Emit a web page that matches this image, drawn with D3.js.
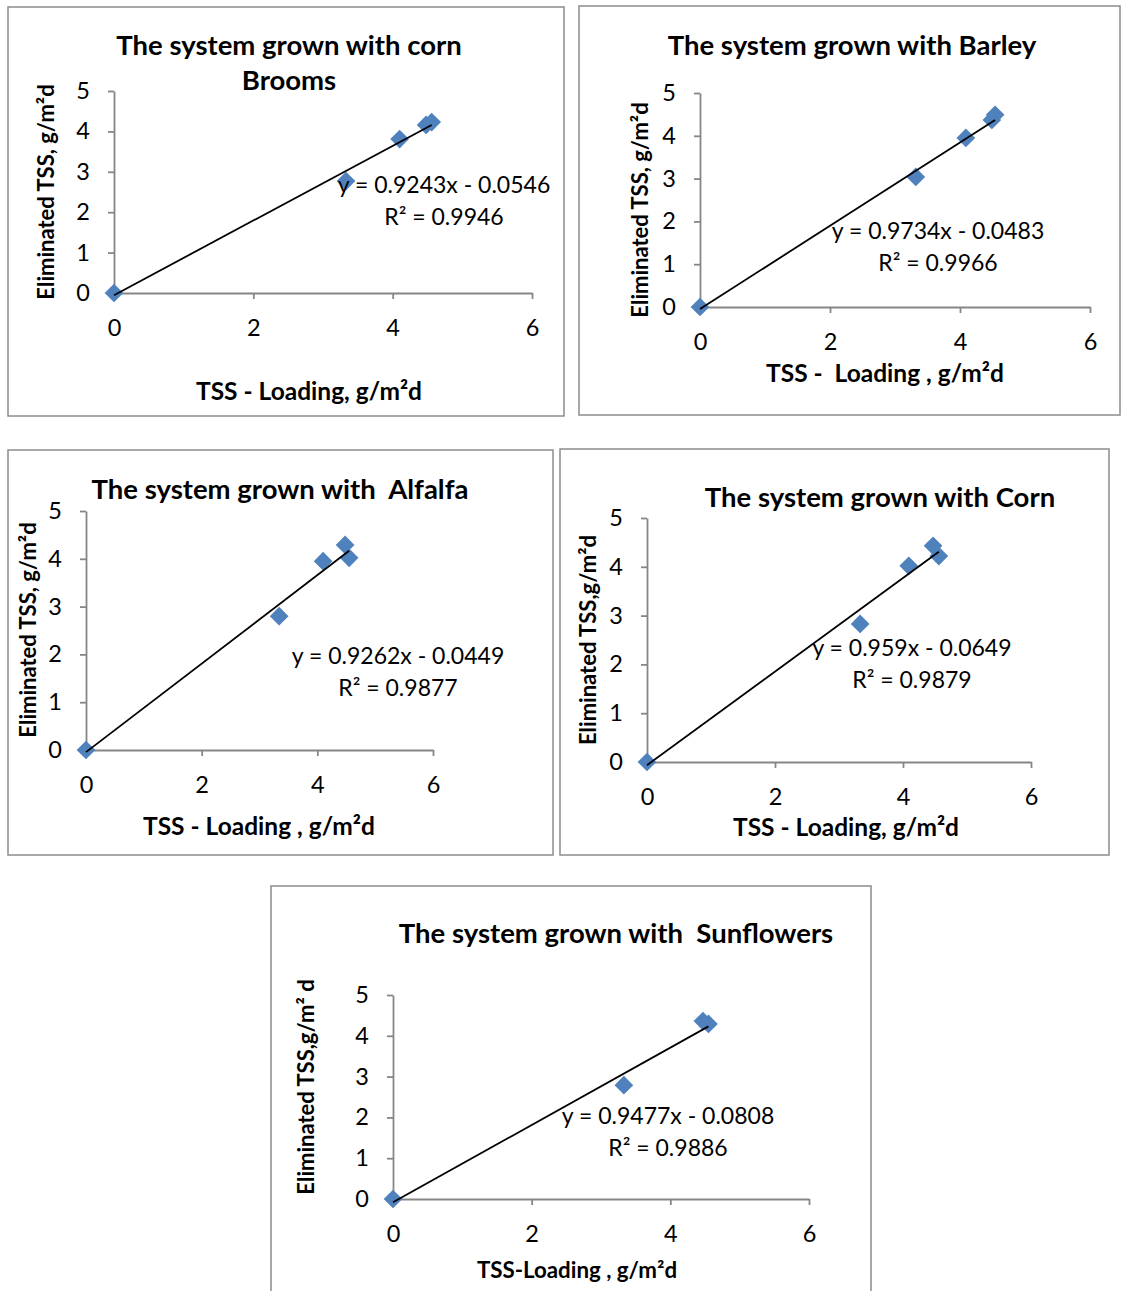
<!DOCTYPE html>
<html>
<head>
<meta charset="utf-8">
<script src="https://cdn.jsdelivr.net/npm/d3@7"></script>
<style>
  body { margin: 0; background: #fff; }
  text { font-family: Lato, "Open Sans", sans-serif; white-space: pre; }
</style>
</head>
<body>
<svg id="chart" width="1121" height="1291"></svg>
<script>
// data (x = TSS loading, y = eliminated TSS)
var loadingBrooms = [0, 3.33, 4.10, 4.48, 4.56];
var removedBrooms = [0, 2.77, 3.81, 4.16, 4.23];

var loadingBarley = [0, 3.32, 4.09, 4.49, 4.54];
var removedBarley = [0, 3.04, 3.95, 4.37, 4.49];

var loadingAlfalfa = [0, 3.34, 4.10, 4.48, 4.55];
var removedAlfalfa = [0, 2.80, 3.95, 4.29, 4.02];

var loadingCorn = [0, 3.33, 4.09, 4.47, 4.56];
var removedCorn = [0, 2.83, 4.02, 4.43, 4.22];

var loadingSun = [0, 3.33, 4.47, 4.55];
var removedSun = [0, 2.79, 4.36, 4.29];

// trendline coefficients as printed on each chart
var slopes = [0.9243, 0.9734, 0.9262, 0.959, 0.9477];
var intercepts = [-0.0546, -0.0483, -0.0449, -0.0649, -0.0808];
var r2 = ["0.9946", "0.9966", "0.9877", "0.9879", "0.9886"];
var eqText = ["y = 0.9243x - 0.0546", "y = 0.9734x - 0.0483", "y = 0.9262x - 0.0449",
              "y = 0.959x - 0.0649", "y = 0.9477x - 0.0808"];

var xTicks = [0, 2, 4, 6];
var yTicks = [0, 1, 2, 3, 4, 5];

var titles = [["The system grown with corn", "Brooms"], ["The system grown with Barley"],
              ["The system grown with  Alfalfa"], ["The system grown with Corn"],
              ["The system grown with  Sunflowers"]];
var yTitles = ["Eliminated TSS, g/m\u00b2d", "Eliminated TSS, g/m\u00b2d", "Eliminated TSS, g/m\u00b2d",
               "Eliminated TSS,g/m\u00b2d", "Eliminated TSS,g/m\u00b2 d"];
var xTitles = ["TSS - Loading, g/m\u00b2d", "TSS -  Loading , g/m\u00b2d", "TSS - Loading , g/m\u00b2d",
               "TSS - Loading, g/m\u00b2d", "TSS-Loading , g/m\u00b2d"];

var series = [
    [loadingBrooms, removedBrooms], [loadingBarley, removedBarley], [loadingAlfalfa, removedAlfalfa],
    [loadingCorn, removedCorn], [loadingSun, removedSun]];

// layout of each panel in the page
var panels = [
    {box: [8, 7, 556, 409], px: [114, 532], py: [293, 91], title: [289, 45], yt: [46, 192], xt: [309, 391], xtSize: 24.5, eq: [444, 185]},
    {box: [579, 6, 541, 409], px: [700, 1090], py: [307, 93], title: [852, 45], yt: [640, 210], xt: [885, 373], xtSize: 24.5, eq: [938, 231]},
    {box: [8, 450, 545, 405], px: [86, 433], py: [750, 511], title: [280, 489], yt: [28, 630], xt: [259, 826], xtSize: 24.5, eq: [398, 656]},
    {box: [560, 449, 549, 406], px: [647, 1031], py: [762, 518], title: [880, 497], yt: [588, 640], xt: [846, 827], xtSize: 24.5, eq: [912, 648]},
    {box: [271, 886, 600, 410], px: [393, 809], py: [1199, 995], title: [616, 933], yt: [306, 1087], xt: [577, 1270], xtSize: 22.3, eq: [668, 1116]}
];

var svg = d3.select("#chart");
var blue = "#4f81bd", axisGray = "#868686";
var diamond = d3.symbol().type(d3.symbolSquare).size(175);

panels.forEach(function(p, i) {
    var g = svg.append("g");

    g.append("rect")
        .attr("x", p.box[0]).attr("y", p.box[1])
        .attr("width", p.box[2]).attr("height", p.box[3])
        .attr("fill", "#fff").attr("stroke", "#8c8c8c").attr("stroke-width", 1.5);

    var x = d3.scaleLinear().domain([0, 6]).range(p.px);
    var y = d3.scaleLinear().domain([0, 5]).range(p.py);

    var xAxis = g.append("g")
        .attr("transform", "translate(0," + p.py[0] + ")")
        .call(d3.axisBottom(x).tickValues(xTicks).tickFormat(d3.format("d")).tickSize(6).tickSizeOuter(0));
    xAxis.selectAll("text").attr("y", 35).attr("dy", "0.35em");

    var yAxis = g.append("g")
        .attr("transform", "translate(" + p.px[0] + ",0)")
        .call(d3.axisLeft(y).tickValues(yTicks).tickFormat(d3.format("d")).tickSize(6).tickPadding(18).tickSizeOuter(0));

    [xAxis, yAxis].forEach(function(a) {
        a.select(".domain").attr("stroke", axisGray).attr("stroke-width", 1.8);
        a.selectAll(".tick line").attr("stroke", axisGray).attr("stroke-width", 1.8);
        a.selectAll(".tick text").attr("fill", "#000")
            .style("font-size", "23.5px").style("font-family", "Lato, sans-serif");
    });

    var xs = series[i][0], ys = series[i][1];
    var pts = xs.map(function(v, k) { return [v, ys[k]]; });

    g.selectAll(".pt")
        .data(pts)
        .enter()
        .append("path")
        .attr("class", "pt")
        .attr("d", diamond)
        .attr("fill", blue)
        .attr("transform", function(d) {
            return "translate(" + x(d[0]) + "," + y(d[1]) + ") rotate(45)";
        });

    // linear trendline across the data range, drawn over the markers
    var xmax = d3.max(xs);
    g.append("line")
        .attr("x1", x(0)).attr("y1", y(intercepts[i]))
        .attr("x2", x(xmax)).attr("y2", y(slopes[i] * xmax + intercepts[i]))
        .attr("stroke", "#000").attr("stroke-width", 1.8);

    // titles
    titles[i].forEach(function(t, k) {
        g.append("text")
            .attr("x", p.title[0]).attr("y", p.title[1] + k * 35).attr("dy", "0.35em")
            .attr("text-anchor", "middle")
            .style("font-size", "27.5px").style("font-weight", "bold")
            .text(t);
    });

    g.append("text")
        .attr("transform", "translate(" + p.yt[0] + "," + p.yt[1] + ") rotate(-90)")
        .attr("dy", "0.35em")
        .attr("text-anchor", "middle")
        .style("font-size", "22px").style("font-weight", "bold")
        .text(yTitles[i]);

    g.append("text")
        .attr("x", p.xt[0]).attr("y", p.xt[1]).attr("dy", "0.35em")
        .attr("text-anchor", "middle")
        .style("font-size", p.xtSize + "px").style("font-weight", "bold")
        .text(xTitles[i]);

    g.append("text")
        .attr("x", p.eq[0]).attr("y", p.eq[1]).attr("dy", "0.35em")
        .attr("text-anchor", "middle")
        .style("font-size", "23px")
        .text(eqText[i]);

    g.append("text")
        .attr("x", p.eq[0]).attr("y", p.eq[1] + 32).attr("dy", "0.35em")
        .attr("text-anchor", "middle")
        .style("font-size", "23px")
        .text("R\u00b2 = " + r2[i]);
});
</script>
</body>
</html>
